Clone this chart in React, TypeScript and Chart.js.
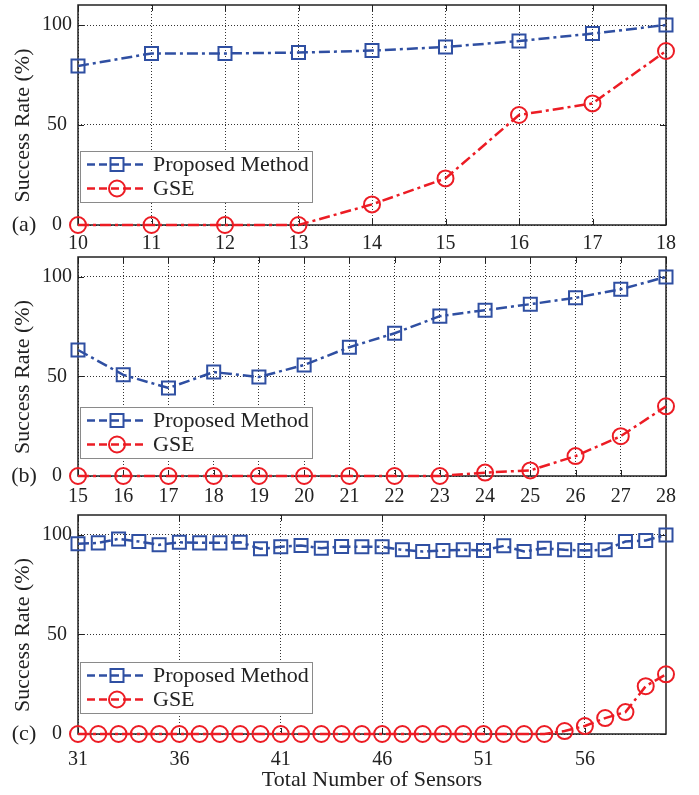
import React, { useEffect, useRef } from "react";
import { Chart, registerables } from "chart.js";

Chart.register(...registerables);

const FONT = "'Liberation Serif', 'Times New Roman', serif";
const BLUE = "#2f4fa2";
const RED = "#ec1c24";
const TEXT = "#222222";

const SERIES_NAMES = ["Proposed Method", "GSE"];
const Y_TITLE = "Success Rate (%)";
const X_TITLE = "Total Number of Sensors";
const Y_TICKS = [0, 50, 100];

// Panel (a)
const sensorsA = [10, 11, 12, 13, 14, 15, 16, 17, 18];
const proposedA = [79.5, 85.8, 85.8, 86.2, 87.2, 89, 92, 95.7, 100];
const gseA = [0, 0, 0, 0, 10.3, 23.3, 55, 60.8, 87];
const xTicksA = [10, 11, 12, 13, 14, 15, 16, 17, 18];

// Panel (b)
const sensorsB = [15, 16, 17, 18, 19, 20, 21, 22, 23, 24, 25, 26, 27, 28];
const proposedB = [63.3, 50.8, 44.2, 52.2, 49.7, 55.8, 64.7, 71.7, 80.3, 83.3, 86.3, 89.5, 93.8, 100];
const gseB = [0, 0, 0, 0, 0, 0, 0, 0, 0, 1.7, 2.8, 10, 20, 35];
const xTicksB = [15, 16, 17, 18, 19, 20, 21, 22, 23, 24, 25, 26, 27, 28];

// Panel (c)
const sensorsC = [31, 32, 33, 34, 35, 36, 37, 38, 39, 40, 41, 42, 43, 44, 45, 46, 47, 48, 49, 50, 51, 52, 53, 54, 55, 56, 57, 58, 59, 60];
const proposedC = [95.5, 96, 98, 96.7, 95, 96.3, 96, 96, 96.3, 93, 94, 94.7, 93.3, 94.2, 94, 94, 92.5, 91.7, 92.2, 92.5, 92.2, 94.5, 91.7, 93.3, 92.5, 92.2, 92.5, 96.7, 97.2, 100];
const gseC = [0, 0, 0, 0, 0, 0, 0, 0, 0, 0, 0, 0, 0, 0, 0, 0, 0, 0, 0, 0, 0, 0, 0, 0, 1.5, 4, 8, 11, 24, 30];
const xTicksC = [31, 36, 41, 46, 51, 56];

function drawMarker(ctx: CanvasRenderingContext2D, style: string, x: number, y: number, r: number) {
  ctx.beginPath();
  if (style === "rect") {
    const s = r * Math.SQRT1_2;
    ctx.rect(x - s, y - s, 2 * s, 2 * s);
  } else {
    ctx.arc(x, y, r, 0, Math.PI * 2);
  }
  ctx.stroke();
}

const decorPlugin = {
  id: "panelDecor",
  beforeDatasetsDraw(chart: any) {
    const { ctx, chartArea: a, scales } = chart;
    ctx.save();
    ctx.setLineDash([]);
    ctx.strokeStyle = "#222";
    ctx.lineWidth = 1;
    const tl = 6;
    scales.x.ticks.forEach((t: any) => {
      const px = Math.round(scales.x.getPixelForValue(t.value)) + 0.5;
      ctx.beginPath();
      ctx.moveTo(px, a.bottom);
      ctx.lineTo(px, a.bottom - tl);
      ctx.moveTo(px, a.top);
      ctx.lineTo(px, a.top + tl);
      ctx.stroke();
    });
    scales.y.ticks.forEach((t: any) => {
      const py = Math.round(scales.y.getPixelForValue(t.value)) + 0.5;
      ctx.beginPath();
      ctx.moveTo(a.left, py);
      ctx.lineTo(a.left + tl, py);
      ctx.moveTo(a.right, py);
      ctx.lineTo(a.right - tl, py);
      ctx.stroke();
    });
    ctx.lineWidth = 1.5;
    ctx.strokeRect(a.left, a.top, a.right - a.left, a.bottom - a.top);
    ctx.restore();
  },
  afterDatasetsDraw(chart: any, _args: any, opts: any) {
    const { ctx, chartArea: a } = chart;
    ctx.save();
    const bw = 232;
    const bh = 51;
    const bx = a.left + 2;
    const by = a.bottom - opts.legendBottom - bh;
    ctx.fillStyle = "#fff";
    ctx.fillRect(bx, by, bw, bh);
    ctx.strokeStyle = "#8a8a8a";
    ctx.lineWidth = 1;
    ctx.setLineDash([]);
    ctx.strokeRect(Math.round(bx) + 0.5, Math.round(by) + 0.5, bw, bh);
    chart.data.datasets.forEach((ds: any, i: number) => {
      const cy = by + 13.5 + i * 24;
      ctx.strokeStyle = ds.borderColor;
      ctx.lineWidth = 2.5;
      ctx.setLineDash([8, 4]);
      ctx.beginPath();
      ctx.moveTo(bx + 7, cy);
      ctx.lineTo(bx + 67, cy);
      ctx.stroke();
      ctx.setLineDash([]);
      ctx.lineWidth = 2;
      drawMarker(ctx, ds.pointStyle, bx + 37, cy, ds.pointRadius);
      ctx.fillStyle = TEXT;
      ctx.font = `22px ${FONT}`;
      ctx.textAlign = "left";
      ctx.textBaseline = "middle";
      ctx.fillText(ds.label, bx + 73, cy + 1);
    });
    ctx.restore();
  },
  afterDraw(chart: any, _args: any, opts: any) {
    const { ctx, chartArea: a } = chart;
    ctx.save();
    ctx.fillStyle = TEXT;
    ctx.font = `22px ${FONT}`;
    ctx.textAlign = "center";
    ctx.textBaseline = "middle";
    ctx.translate(23.5, (a.top + a.bottom) / 2 + 10.5);
    ctx.rotate(-Math.PI / 2);
    ctx.fillText(Y_TITLE, 0, 0);
    ctx.restore();
    ctx.save();
    ctx.fillStyle = TEXT;
    ctx.font = `22px ${FONT}`;
    ctx.textAlign = "center";
    ctx.textBaseline = "middle";
    ctx.fillText(opts.letter, 24, a.bottom);
    ctx.restore();
  },
};

type Panel = {
  x: number[];
  proposed: number[];
  gse: number[];
  ticks: number[];
  letter: string;
  legendBottom: number;
  xHeight: number;
  tickPad: number;
  showTitle: boolean;
};

function makeConfig(p: Panel): any {
  const common = {
    borderWidth: 2.5,
    borderDash: [11, 4, 3, 4],
    pointBorderWidth: 2,
    pointBackgroundColor: "rgba(0,0,0,0)",
    pointHoverRadius: 8,
    fill: false,
    tension: 0,
    clip: false,
  };
  return {
    type: "line",
    data: {
      datasets: [
        {
          ...common,
          label: SERIES_NAMES[0],
          data: p.x.map((x, i) => ({ x, y: p.proposed[i] })),
          borderColor: BLUE,
          pointBorderColor: BLUE,
          pointStyle: "rect",
          pointRadius: 9.2,
        },
        {
          ...common,
          label: SERIES_NAMES[1],
          data: p.x.map((x, i) => ({ x, y: p.gse[i] })),
          borderColor: RED,
          pointBorderColor: RED,
          pointStyle: "circle",
          pointRadius: 8,
        },
      ],
    },
    options: {
      animation: false,
      responsive: false,
      maintainAspectRatio: false,
      events: [],
      layout: { autoPadding: false, padding: { top: 5, right: 33, left: 0, bottom: 0 } },
      plugins: {
        legend: { display: false },
        tooltip: { enabled: false },
        panelDecor: { letter: p.letter, legendBottom: p.legendBottom },
      },
      scales: {
        x: {
          type: "linear",
          min: p.x[0],
          max: p.x[p.x.length - 1],
          afterBuildTicks: (s: any) => {
            s.ticks = p.ticks.map((v) => ({ value: v }));
          },
          afterFit: (s: any) => {
            s.height = p.xHeight;
            s.paddingLeft = 0;
            s.paddingRight = 0;
          },
          grid: { color: "#333", lineWidth: 1, drawTicks: false },
          border: { display: false, dash: [1, 2] },
          ticks: {
            font: { family: FONT, size: 20 },
            color: TEXT,
            padding: p.tickPad,
            autoSkip: false,
            maxRotation: 0,
            callback: (v: any) => String(v),
          },
          title: {
            display: p.showTitle,
            text: X_TITLE,
            font: { family: FONT, size: 22 },
            color: TEXT,
            padding: { top: 0, bottom: 2 },
          },
        },
        y: {
          min: 0,
          max: 110,
          afterBuildTicks: (s: any) => {
            s.ticks = Y_TICKS.map((v) => ({ value: v }));
          },
          afterFit: (s: any) => {
            s.width = 78;
            s.paddingTop = 0;
            s.paddingBottom = 0;
          },
          grid: { color: "#333", lineWidth: 1, drawTicks: false },
          border: { display: false, dash: [1, 2] },
          ticks: {
            font: { family: FONT, size: 20 },
            color: TEXT,
            padding: 6,
            crossAlign: "center",
            callback: (v: any) => String(v),
          },
        },
      },
    },
    plugins: [decorPlugin],
  };
}

const PANELS: { panel: Panel; top: number; height: number }[] = [
  {
    panel: { x: sensorsA, proposed: proposedA, gse: gseA, ticks: xTicksA, letter: "(a)", legendBottom: 23, xHeight: 27, tickPad: 7, showTitle: false },
    top: 0,
    height: 252,
  },
  {
    panel: { x: sensorsB, proposed: proposedB, gse: gseB, ticks: xTicksB, letter: "(b)", legendBottom: 18, xHeight: 30, tickPad: 9, showTitle: false },
    top: 252,
    height: 254,
  },
  {
    panel: { x: sensorsC, proposed: proposedC, gse: gseC, ticks: xTicksC, letter: "(c)", legendBottom: 21, xHeight: 61, tickPad: 14, showTitle: true },
    top: 510,
    height: 285,
  },
];

function PanelChart({ panel, top, height }: { panel: Panel; top: number; height: number }) {
  const ref = useRef<HTMLCanvasElement | null>(null);
  useEffect(() => {
    if (!ref.current) return;
    const chart = new Chart(ref.current, makeConfig(panel));
    return () => chart.destroy();
  }, [panel]);
  return (
    <canvas
      ref={ref}
      width={699}
      height={height}
      style={{ position: "absolute", left: 0, top, width: 699, height }}
    />
  );
}

export default function App() {
  return (
    <div style={{ position: "absolute", left: 0, top: 0, width: 699, height: 795, background: "#fff", overflow: "hidden" }}>
      {PANELS.map((p, i) => (
        <PanelChart key={i} panel={p.panel} top={p.top} height={p.height} />
      ))}
    </div>
  );
}
